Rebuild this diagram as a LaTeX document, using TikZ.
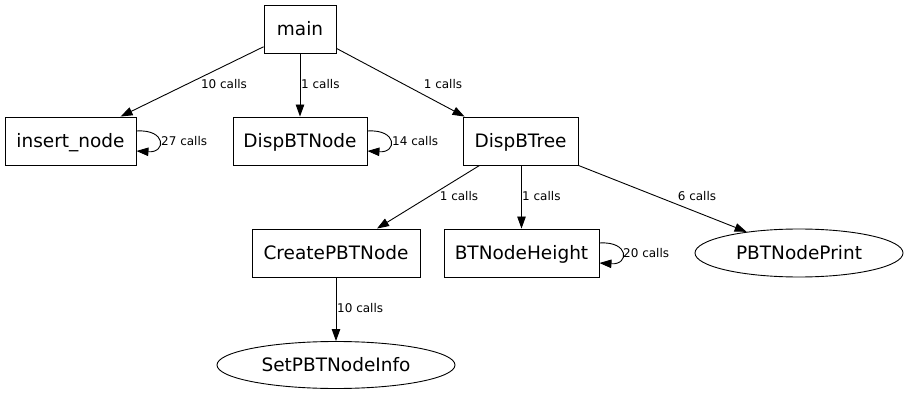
\documentclass[tikz,border=0pt]{standalone}
\usepackage{fontspec}
\setmainfont{DejaVu Sans}
\usetikzlibrary{arrows.meta,shapes.geometric,calc}

\tikzset{
  fn/.style={draw, line width=0.9pt, minimum height=48pt, inner sep=0pt,
    text height=13pt, text depth=0pt,
    font=\fontsize{18.5}{21}\selectfont},
  fnbox/.style={fn, rectangle},
  fnell/.style={fn, ellipse},
  call/.style={draw, line width=0.9pt, -{Triangle[length=12pt,width=8.5pt]}},
  lbl/.style={font=\fontsize{12}{14}\selectfont, inner sep=0pt},
}

\begin{document}
\begin{tikzpicture}[x=1pt,y=-1pt]
  \useasboundingbox (0,0) rectangle (909,395);

  % function nodes
  \node[fnbox, minimum width=72pt]  (main) at (300,29)    {main};
  \node[fnbox, minimum width=131pt] (ins)  at (70.5,141)  {insert\_node};
  \node[fnbox, minimum width=134pt] (dbn)  at (300,141)   {DispBTNode};
  \node[fnbox, minimum width=115pt] (dbt)  at (520.5,141) {DispBTree};
  \node[fnbox, minimum width=168pt] (cp)   at (336,253)   {CreatePBTNode};
  \node[fnbox, minimum width=155pt] (bth)  at (521.5,253) {BTNodeHeight};
  \node[fnell, minimum width=208pt] (pbp)  at (799,253)   {PBTNodePrint};
  \node[fnell, minimum width=238pt, minimum height=47pt] (spi) at (336,365) {SetPBTNodeInfo};

  % calls from main
  \draw[call] (main) -- (ins);
  \draw[call] (main) -- (dbn);
  \draw[call] (main) -- ($(dbt.north west)+(2,0)$);

  % calls from DispBTree
  \draw[call] ($(dbt.south west)+(17,0)$) -- ($(cp.north)+(41,0)$);
  \draw[call] (dbt.south -| bth.north) -- (bth.north);
  \draw[call] (dbt.south east) -- (pbp.158);

  % calls from CreatePBTNode
  \draw[call] (cp.south -| spi.north) -- (spi.north);

  % recursive calls
  \draw[call] ($(ins.east)+(0,-10)$) .. controls +(30,-2) and +(30,2) .. ($(ins.east)+(0,10)$);
  \draw[call] ($(dbn.east)+(0,-10)$) .. controls +(30,-2) and +(30,2) .. ($(dbn.east)+(0,10)$);
  \draw[call] ($(bth.east)+(0,-10)$) .. controls +(30,-2) and +(30,2) .. ($(bth.east)+(0,10)$);

  % call counts
  \node[lbl] (l1)  at (224,84)  {10 calls};
  \node[lbl, anchor=west] (l2) at (301,84) {1 calls};
  \node[lbl] (l3)  at (443,84)  {1 calls};
  \node[lbl] (l4)  at (459,196) {1 calls};
  \node[lbl, anchor=west] (l5) at (522,196) {1 calls};
  \node[lbl] (l6)  at (697,196) {6 calls};
  \node[lbl, anchor=west] (l7) at (337,308) {10 calls};
  \node[lbl, anchor=west] (l8) at (161,141) {27 calls};
  \node[lbl, anchor=west] (l9) at (392,141) {14 calls};
  \node[lbl, anchor=west] (l10) at (623,253) {20 calls};
\end{tikzpicture}
\end{document}
